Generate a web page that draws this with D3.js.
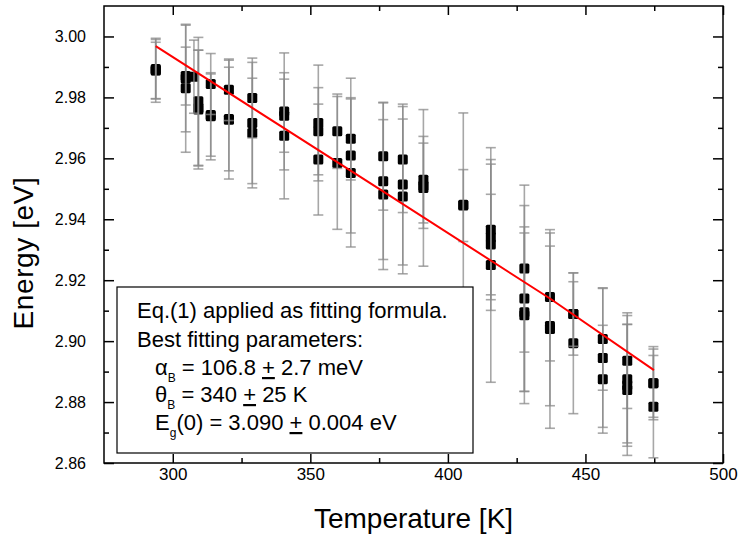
<!DOCTYPE html>
<html>
<head>
<meta charset="utf-8">
<script src="https://cdn.jsdelivr.net/npm/d3@7"></script>
<style>
  body { margin: 0; background: #fff; }
  text { font-family: "Liberation Sans", Arial, sans-serif; fill: #000; }
</style>
</head>
<body>
<div class="chart"></div>
<script>
// Data
var temperature = [
  293.8, 293.8, 293.8,
  304.7, 304.7, 304.7, 307.7,
  309.3, 309.3, 309.3,
  313.8, 313.8, 313.8,
  320.4, 320.4, 320.4,
  328.9, 328.9, 328.9,
  340.5, 340.5, 340.5,
  352.9, 352.9, 352.9,
  359.8, 359.8,
  364.7, 364.7, 364.7,
  376.5, 376.5, 376.5,
  383.6, 383.6, 383.6,
  391.1, 391.1, 391.1,
  405.6, 405.6,
  415.6, 415.6, 415.6, 415.6,
  427.8, 427.8, 427.8, 427.8,
  437.1, 437.1, 437.1,
  445.6, 445.6, 445.6,
  456.3, 456.3, 456.3,
  465.2, 465.2, 465.2, 465.2,
  474.7, 474.7, 474.7
];
var energy = [
  2.9889, 2.9893, 2.9888,
  2.9862, 2.9830, 2.9870, 2.9868,
  2.9787, 2.9760, 2.9765,
  2.9844, 2.9738, 2.9742,
  2.9825, 2.9727, 2.9729,
  2.9798, 2.9716, 2.9683,
  2.9754, 2.9674, 2.9740,
  2.9716, 2.9689, 2.9596,
  2.9689, 2.9585,
  2.9664, 2.9609, 2.9552,
  2.9607, 2.9525, 2.9481,
  2.9596, 2.9514, 2.9475,
  2.9530, 2.9503, 2.9510,
  2.9448, 2.9445,
  2.9366, 2.9317, 2.9250, 2.9341,
  2.9238, 2.9140, 2.9085, 2.9095,
  2.9145, 2.9050, 2.9040,
  2.9089, 2.8993, 2.9089,
  2.9007, 2.8945, 2.8875,
  2.8936, 2.8875, 2.8855, 2.8840,
  2.8862, 2.8785, 2.8862
];
var energyErr = [
  0.0105, 0.0097, 0.0093,
  0.0175, 0.0210, 0.0095, 0.0120,
  0.0210, 0.0195, 0.0190,
  0.0100, 0.0143, 0.0135,
  0.0101, 0.0195, 0.0170,
  0.0131, 0.0199, 0.0180,
  0.0192, 0.0207, 0.0120,
  0.0190, 0.0143, 0.0182,
  0.0122, 0.0218,
  0.0135, 0.0254, 0.0243,
  0.0177, 0.0257, 0.0246,
  0.0174, 0.0264, 0.0254,
  0.0142, 0.0257, 0.0140,
  0.0301, 0.0118,
  0.0230, 0.0165, 0.0385, 0.0240,
  0.0274, 0.0305, 0.0290, 0.0260,
  0.0210, 0.0262, 0.0326,
  0.0135, 0.0231, 0.0106,
  0.0168, 0.0228, 0.0177,
  0.0157, 0.0209, 0.0200, 0.0215,
  0.0112, 0.0168, 0.0120
];

// red fit line
var fitT = [293.8, 375.3, 437.1, 474.9];
var fitE = [2.9968, 2.9498, 2.9140, 2.8905];

var xTicks = [300, 350, 400, 450, 500];
var xMinor = [325, 375, 425, 475];
var yTicks = [2.86, 2.88, 2.90, 2.92, 2.94, 2.96, 2.98, 3.00];
var yMinor = [2.87, 2.89, 2.91, 2.93, 2.95, 2.97, 2.99];

var svgWidth = 739;
var svgHeight = 541;
var margin = { top: 6, right: 16, bottom: 78, left: 104 };
var width = svgWidth - margin.left - margin.right;
var height = svgHeight - margin.top - margin.bottom;

var svg = d3.select(".chart")
  .append("svg")
  .attr("width", svgWidth)
  .attr("height", svgHeight);

var chartGroup = svg.append("g")
  .attr("transform", `translate(${margin.left}, ${margin.top})`);

var xScale = d3.scaleLinear().domain([275, 500]).range([0, width]);
var yScale = d3.scaleLinear().domain([2.86, 3.01]).range([height, 0]);

// axes: ticks inward on all four sides, labels only bottom/left
function styleAxis(g) {
  g.select(".domain").remove();
  g.selectAll(".tick line").attr("stroke", "#000").attr("stroke-width", 1.5);
}

chartGroup.append("g")
  .attr("transform", `translate(0, ${height})`)
  .call(d3.axisBottom(xScale).tickValues(xTicks).tickSize(-9).tickPadding(5).tickFormat(d3.format("d")))
  .call(styleAxis)
  .selectAll("text").style("font-size", "17px");

chartGroup.append("g")
  .attr("transform", `translate(0, ${height})`)
  .call(d3.axisBottom(xScale).tickValues(xMinor).tickSize(-5).tickFormat(""))
  .call(styleAxis);

chartGroup.append("g")
  .call(d3.axisTop(xScale).tickValues(xTicks).tickSize(-9).tickFormat(""))
  .call(styleAxis);
chartGroup.append("g")
  .call(d3.axisTop(xScale).tickValues(xMinor).tickSize(-5).tickFormat(""))
  .call(styleAxis);

chartGroup.append("g")
  .call(d3.axisLeft(yScale).tickValues(yTicks).tickSize(-10).tickPadding(18).tickFormat(d3.format(".2f")))
  .call(styleAxis)
  .selectAll("text").style("font-size", "16px");
chartGroup.append("g")
  .call(d3.axisLeft(yScale).tickValues(yMinor).tickSize(-5).tickFormat(""))
  .call(styleAxis);

chartGroup.append("g")
  .attr("transform", `translate(${width}, 0)`)
  .call(d3.axisRight(yScale).tickValues(yTicks).tickSize(-10).tickFormat(""))
  .call(styleAxis);
chartGroup.append("g")
  .attr("transform", `translate(${width}, 0)`)
  .call(d3.axisRight(yScale).tickValues(yMinor).tickSize(-5).tickFormat(""))
  .call(styleAxis);

// points
var points = temperature.map(function(t, i) {
  return { t: t, e: energy[i], err: energyErr[i] };
});

chartGroup.selectAll("rect.pt")
  .data(points)
  .enter()
  .append("rect")
  .attr("class", "pt")
  .attr("x", d => xScale(d.t) - 5)
  .attr("y", d => yScale(d.e) - 5)
  .attr("width", 10)
  .attr("height", 10)
  .attr("rx", 1.5)
  .attr("fill", "#000");

// error bars drawn over the squares
var bars = chartGroup.selectAll("g.err")
  .data(points)
  .enter()
  .append("g")
  .attr("class", "err")
  .attr("stroke", "#8a8a8a")
  .attr("stroke-opacity", 0.75)
  .attr("stroke-width", 1.6);

bars.append("line")
  .attr("x1", d => xScale(d.t)).attr("x2", d => xScale(d.t))
  .attr("y1", d => yScale(d.e + d.err)).attr("y2", d => yScale(d.e - d.err));
bars.append("line")
  .attr("x1", d => xScale(d.t) - 5).attr("x2", d => xScale(d.t) + 5)
  .attr("y1", d => yScale(d.e + d.err)).attr("y2", d => yScale(d.e + d.err));
bars.append("line")
  .attr("x1", d => xScale(d.t) - 5).attr("x2", d => xScale(d.t) + 5)
  .attr("y1", d => yScale(d.e - d.err)).attr("y2", d => yScale(d.e - d.err));

// fit line
var fitLine = d3.line()
  .x((d, i) => xScale(fitT[i]))
  .y(d => yScale(d));

chartGroup.append("path")
  .datum(fitE)
  .attr("d", fitLine)
  .attr("fill", "none")
  .attr("stroke", "#ff0000")
  .attr("stroke-width", 2);

// legend box
var legend = chartGroup.append("g").attr("transform", "translate(13, 281)");
legend.append("rect")
  .attr("width", 356)
  .attr("height", 166)
  .attr("fill", "#fff")
  .attr("stroke", "#000")
  .attr("stroke-width", 1.2);

var legendText = legend.append("text").style("font-size", "22px");
legendText.append("tspan").attr("x", 20).attr("y", 31).text("Eq.(1) applied as fitting formula.");
legendText.append("tspan").attr("x", 20).attr("y", 60).text("Best fitting parameters:");

function paramLine(y, sym, sub, rest1, rest2) {
  var t = legend.append("text").attr("x", 38).attr("y", y).style("font-size", "22px");
  t.append("tspan").text(sym);
  t.append("tspan").attr("dy", 7).style("font-size", "12px").text(sub);
  t.append("tspan").attr("dy", -7).text(rest1);
  t.append("tspan").style("text-decoration", "underline").text("+");
  t.append("tspan").text(rest2);
}
paramLine(88, "\u03B1", "B", " = 106.8 ", " 2.7 meV");
paramLine(115, "\u03B8", "B", " = 340 ", " 25 K");
paramLine(143, "E", "g", "(0) = 3.090 ", " 0.004 eV");

// frame
chartGroup.append("rect")
  .attr("width", width)
  .attr("height", height)
  .attr("fill", "none")
  .attr("stroke", "#000")
  .attr("stroke-width", 1.5);

// axis titles
chartGroup.append("text")
  .attr("transform", `translate(${33 - margin.left}, ${253 - margin.top}) rotate(-90)`)
  .attr("text-anchor", "middle")
  .style("font-size", "28px")
  .style("letter-spacing", "0.6px")
  .text("Energy [eV]");

chartGroup.append("text")
  .attr("transform", `translate(${width / 2}, ${528 - margin.top})`)
  .attr("text-anchor", "middle")
  .style("font-size", "28px")
  .text("Temperature [K]");
</script>
</body>
</html>
